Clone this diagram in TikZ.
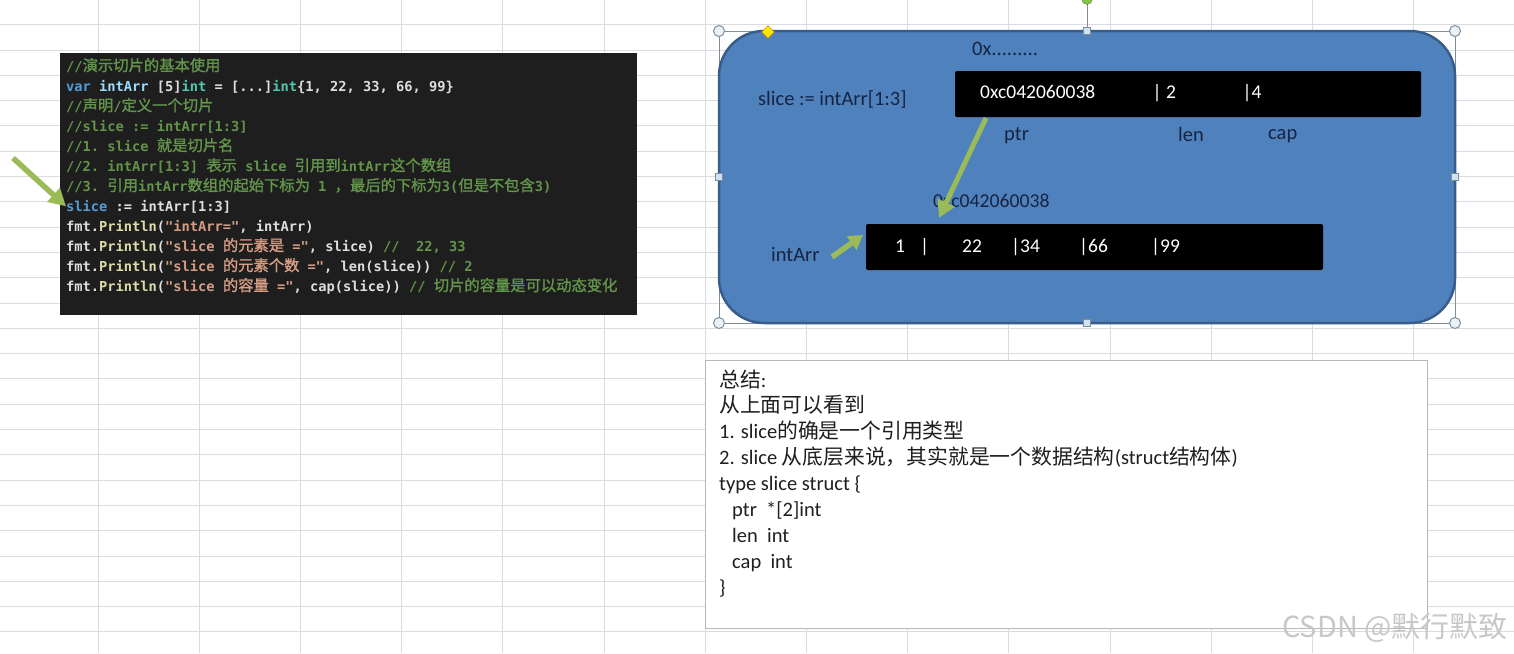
\documentclass[tikz,border=0pt]{standalone}
\usepackage{fontspec}
\setmainfont{Carlito}
\setmonofont{DejaVu Sans Mono}
\newfontfamily\cjk{Noto Sans CJK SC}[Scale=1.015]
\newfontfamily\cjkcode{Noto Sans CJK SC}[Scale=1.117,AutoFakeBold=1.5]
\usetikzlibrary{arrows.meta,positioning,shapes.geometric}

\definecolor{gridline}{RGB}{218,220,224}
\definecolor{codebg}{RGB}{30,30,30}
\definecolor{cmt}{RGB}{98,148,74}
\definecolor{kw}{RGB}{86,156,214}
\definecolor{ident}{RGB}{156,220,254}
\definecolor{typ}{RGB}{78,201,176}
\definecolor{fn}{RGB}{220,220,170}
\definecolor{str}{RGB}{214,157,133}
\definecolor{plain}{RGB}{222,222,222}
\definecolor{boxblue}{RGB}{79,129,189}
\definecolor{boxedge}{RGB}{56,93,138}
\definecolor{navy}{RGB}{22,36,66}
\definecolor{arrowgreen}{RGB}{155,187,89}
\definecolor{handleedge}{RGB}{128,142,156}
\definecolor{handlefill}{RGB}{232,242,248}
\definecolor{sidefill}{RGB}{205,228,245}
\definecolor{wmgray}{RGB}{200,200,200}

\newcommand\zh[1]{{\cjk #1}}
\newcommand\zc[1]{{\cjkcode #1}}

\begin{document}
\begin{tikzpicture}[
  x=1pt,y=-1pt,
  gridln/.style={draw=gridline,line width=1pt},
  codeln/.style={anchor=base west,inner sep=0pt,text=plain,
    font=\ttfamily\bfseries\fontsize{13.7}{20}\selectfont},
  blackbar/.style={fill=black,rounded corners=2pt,inner sep=0pt},
  lbl/.style={anchor=base west,inner sep=0pt,text=navy,font=\fontsize{20.5}{24}\selectfont},
  val/.style={anchor=base west,inner sep=0pt,text=white,font=\fontsize{19.5}{23}\selectfont},
  summ/.style={anchor=base west,inner sep=0pt,text=black!88,font=\fontsize{20.5}{24}\selectfont},
  greenarr/.style={draw=arrowgreen,line width=5.5pt,-{Triangle[length=17pt,width=18pt]}},
  hcorner/.style={circle,draw=handleedge,fill=handlefill,line width=1pt,inner sep=0pt,minimum size=11pt},
  hside/.style={rectangle,draw=handleedge,fill=sidefill,line width=1pt,inner sep=0pt,minimum size=7pt}
]
\useasboundingbox (0,0) rectangle (1514,653);
\fill[white] (0,0) rectangle (1514,653);

% ---- sheet grid ----
\foreach \gy in {0,...,24}
  \draw[gridln] (0,{24.7+25.3*\gy}) -- (1514,{24.7+25.3*\gy});
\foreach \gx in {0,...,13}
  \draw[gridln] ({98+101.2*\gx},0) -- ({98+101.2*\gx},653);

% ---- go code ----
\node[fill=codebg,inner sep=0pt,minimum width=577pt,minimum height=262pt,anchor=north west]
  (codeBox) at (60,53) {};
\node[codeln] (c1) at (66,71) {\textcolor{cmt}{//\zc{演示切片的基本使用}}};
\node[codeln] (c2) at (66,91) {\textcolor{kw}{var} \textcolor{ident}{intArr} [5]\textcolor{typ}{int} = [...]\textcolor{typ}{int}\{1, 22, 33, 66, 99\}};
\node[codeln] (c3) at (66,111) {\textcolor{cmt}{//\zc{声明}/\zc{定义一个切片}}};
\node[codeln] (c4) at (66,131) {\textcolor{cmt}{//slice := intArr[1:3]}};
\node[codeln] (c5) at (66,151) {\textcolor{cmt}{//1. slice \zc{就是切片名}}};
\node[codeln] (c6) at (66,171) {\textcolor{cmt}{//2. intArr[1:3] \zc{表示} slice \zc{引用到}intArr\zc{这个数组}}};
\node[codeln] (c7) at (66,191) {\textcolor{cmt}{//3. \zc{引用}intArr\zc{数组的起始下标为} 1 \zc{，最后的下标为}3(\zc{但是不包含}3)}};
\node[codeln] (c8) at (66,211) {\textcolor{kw}{slice} := intArr[1:3]};
\node[codeln] (c9) at (66,231) {fmt.\textcolor{fn}{Println}(\textcolor{str}{"intArr="}, intArr)};
\node[codeln] (c10) at (66,251) {fmt.\textcolor{fn}{Println}(\textcolor{str}{"slice \zc{的元素是} ="}, slice) \textcolor{cmt}{//\ \ 22, 33}};
\node[codeln] (c11) at (66,271) {fmt.\textcolor{fn}{Println}(\textcolor{str}{"slice \zc{的元素个数} ="}, len(slice)) \textcolor{cmt}{// 2}};
\node[codeln] (c12) at (66,291) {fmt.\textcolor{fn}{Println}(\textcolor{str}{"slice \zc{的容量} ="}, cap(slice)) \textcolor{cmt}{// \zc{切片的容量是可以动态变化}}};

\coordinate (markTail) at (13,158);
\draw[greenarr] (markTail) -- (c8.west);

% ---- slice layout ----
\draw[draw=handleedge,line width=1pt] (719,31) rectangle (1455,323);
\node[fill=boxblue,draw=boxedge,line width=2.5pt,rounded corners=45pt,inner sep=0pt,
      minimum width=736pt,minimum height=292pt] (layoutBox) at (1087,177) {};

\node[lbl] (addrTop) at (972,55) {0x.........};
\node[lbl] (sliceLbl) at (758,105) {slice := intArr[1:3]};
\node[blackbar,minimum width=466pt,minimum height=46pt] (sliceBar) at (1188,94) {};
\node[val] (ptrVal) at (980,98.5) {0xc042060038};
\node[val] (lenVal) at (1152.5,98.5) {| 2};
\node[val] (capVal) at (1242.5,98.5) {|4};
\node[lbl] (ptrLbl) at (1004,140) {ptr};
\node[lbl] (lenLbl) at (1178,141) {len};
\node[lbl] (capLbl) at (1268,139) {cap};

\node[lbl,font=\fontsize{19.7}{24}\selectfont] (arrAddr) at (933,207) {0xc042060038};
\node[blackbar,minimum width=457pt,minimum height=46pt] (arrBar) at (1094.5,247) {};
\node[val] (v1) at (895,252.5) {1};
\node[val] (v2) at (920,252.5) {|};
\node[val] (v3) at (962,252.5) {22};
\node[val] (v4) at (1011,252.5) {|34};
\node[val] (v5) at (1079,252.5) {|66};
\node[val] (v6) at (1151,252.5) {|99};
\node[lbl] (arrLbl) at (771,261.5) {intArr};

\coordinate (ptrFoot) at (986,118);
\coordinate (arrHead) at (939,218);
\draw[greenarr,line width=5pt] (ptrFoot) -- (arrHead);
\coordinate (arrTail) at (832,257);
\coordinate (arrStart) at (863,235);
\draw[greenarr,-{Triangle[length=14pt,width=16pt]}] (arrTail) -- (arrStart);

% ---- selection handles ----
\draw[draw=handleedge,line width=1pt] (1087,31) -- (1087,4);
\node[circle,draw=arrowgreen!70!black,fill=arrowgreen!85!green,inner sep=0pt,minimum size=11pt] (rotHandle) at (1087,-1) {};
\node[hcorner] (hNW) at (719,31) {};
\node[hcorner] (hNE) at (1455,31) {};
\node[hcorner] (hSW) at (719,323) {};
\node[hcorner] (hSE) at (1455,323) {};
\node[hside] (hN) at (1087,31) {};
\node[hside] (hS) at (1087,323) {};
\node[hside] (hW) at (719,177) {};
\node[hside] (hE) at (1455,177) {};
\node[diamond,draw=orange!80!black,fill=yellow!90!orange,inner sep=0pt,minimum size=13pt] (hAdj) at (768,32) {};

% ---- summary ----
\node[fill=white,draw=black!28,line width=1.2pt,inner sep=0pt,minimum width=722pt,
      minimum height=268pt,anchor=north west] (sumBox) at (705,360) {};
\node[summ] (s1) at (719,387) {\zh{总结}:};
\node[summ] (s2) at (719,412.9) {\zh{从上面可以看到}};
\node[summ] (s3) at (719,438.8) {1. slice\zh{的确是一个引用类型}};
\node[summ] (s4) at (719,464.7) {2. slice \zh{从底层来说，其实就是一个数据结构}(struct\zh{结构体})};
\node[summ] (s5) at (719,490.6) {type slice struct \{};
\node[summ] (s6) at (732,516.5) {ptr\ \ *[2]int};
\node[summ] (s7) at (732,542.4) {len\ \ int};
\node[summ] (s8) at (732,568.3) {cap\ \ int};
\node[summ] (s9) at (719,594.2) {\}};

\node[anchor=base west,inner sep=0pt,text=wmgray,font=\cjk\fontsize{28.5}{32}\selectfont]
  (wmark) at (1282,637) {CSDN @默行默致};
\end{tikzpicture}
\end{document}
